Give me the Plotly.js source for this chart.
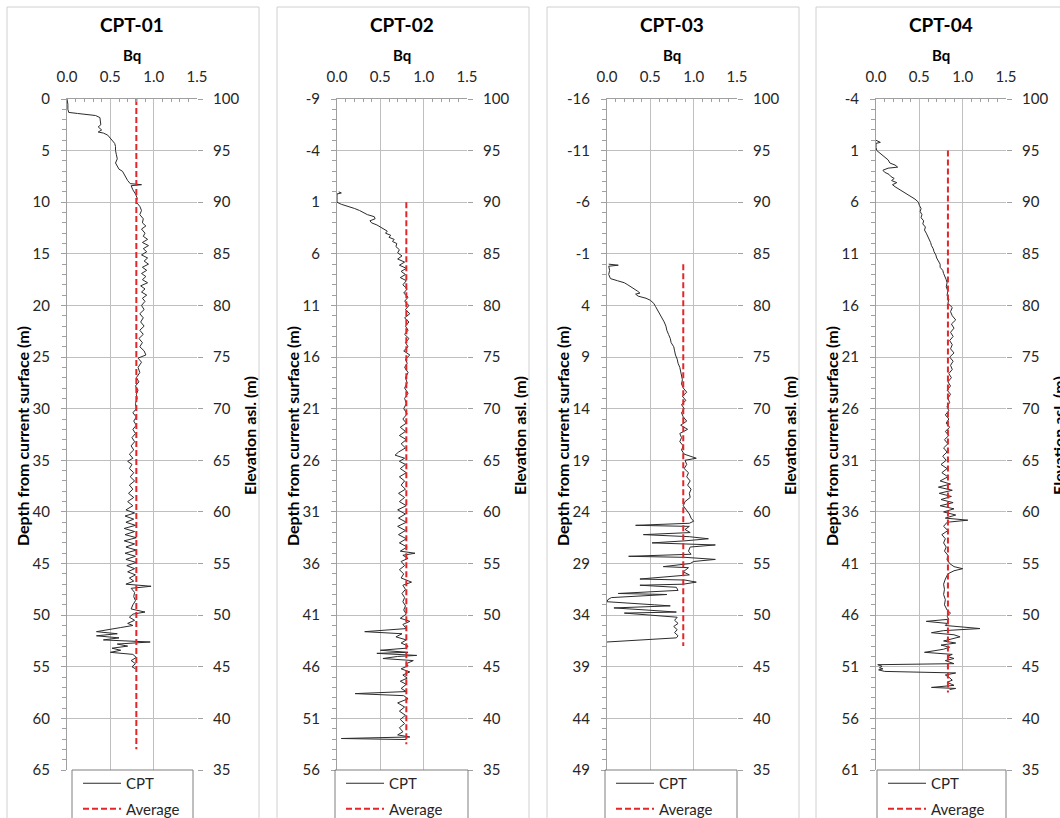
<!DOCTYPE html>
<html><head><meta charset="utf-8">
<script src="https://cdn.plot.ly/plotly-3.0.1.min.js"></script>
<style>html,body{margin:0;padding:0;background:#fff}#chart{width:1060px;height:818px}</style>
</head><body><div id="chart"></div><script>
const panelTitles = ['CPT-01','CPT-02','CPT-03','CPT-04'];
const depthTop = [0,-9,-16,-4];
const elevRange = [35,100];
const bqRange = [0,1.5];
const xTitle = 'Bq';
const yTitleLeft = 'Depth from current surface (m)';
const yTitleRight = 'Elevation asl. (m)';
const legendNames = ['CPT','Average'];

const depth1 = [0,0.5,1.0,1.3,1.4,1.5,1.6,1.8,2.2,2.5,2.7,3.0,3.2,3.3,3.5,3.8,4.0,4.3,4.6,5.0,5.4,5.8,6.2,6.5,6.8,7.0,7.3,7.6,7.9,8.2,8.3,8.4,8.8,9.2,9.6,10.0,10.4,10.8,11.2,11.6,12.0,12.3,12.6,13.0,13.3,13.6,13.9,14.2,14.5,14.8,15.1,15.4,15.7,16.0,16.3,16.6,16.9,17.2,17.5,17.8,18.1,18.4,18.7,19.0,19.3,19.6,20.0,20.4,20.8,21.2,21.6,22.0,22.4,22.8,23.2,23.6,24.0,24.4,24.8,25.1,25.5,26.0,26.5,27.0,27.4,27.8,28.2,28.6,29.0,29.5,30.0,30.4,30.8,31.2,31.6,32.0,32.4,32.8,33.2,33.6,34.0,34.4,34.8,35.1,35.4,35.8,36.2,36.6,37.0,37.4,37.8,38.2,38.6,39.0,39.4,39.8,40.1,40.4,40.7,41.0,41.3,41.6,41.9,42.2,42.5,42.8,43.1,43.4,43.7,44.0,44.3,44.6,44.9,45.2,45.5,45.8,46.1,46.4,46.7,47.0,47.2,47.4,47.8,48.2,48.6,49.0,49.4,49.7,49.9,50.2,50.5,50.8,51.0,51.2,51.4,51.6,51.8,52.0,52.2,52.4,52.6,52.8,53.0,53.2,53.4,53.6,53.8,54.1,54.4,54.7,55.0,55.2];
const bq1 = [0.00,0.01,0.01,0.02,0.12,0.26,0.33,0.38,0.39,0.39,0.36,0.40,0.36,0.42,0.47,0.50,0.52,0.55,0.56,0.56,0.57,0.58,0.56,0.58,0.60,0.64,0.66,0.68,0.70,0.73,0.86,0.74,0.76,0.79,0.81,0.80,0.84,0.86,0.84,0.88,0.87,0.91,0.86,0.90,0.88,0.93,0.87,0.94,0.88,0.92,0.86,0.93,0.89,0.94,0.87,0.92,0.86,0.91,0.87,0.93,0.85,0.90,0.86,0.92,0.87,0.90,0.86,0.89,0.84,0.88,0.85,0.89,0.84,0.88,0.83,0.87,0.84,0.89,0.91,0.82,0.86,0.82,0.84,0.80,0.83,0.79,0.82,0.80,0.81,0.79,0.80,0.76,0.80,0.77,0.80,0.76,0.79,0.75,0.78,0.74,0.77,0.72,0.76,0.70,0.75,0.72,0.77,0.73,0.78,0.72,0.76,0.71,0.77,0.70,0.76,0.68,0.78,0.67,0.77,0.68,0.79,0.66,0.78,0.67,0.80,0.66,0.78,0.68,0.80,0.67,0.79,0.68,0.80,0.69,0.78,0.70,0.79,0.72,0.77,0.68,0.97,0.74,0.78,0.77,0.79,0.76,0.74,0.90,0.76,0.72,0.78,0.70,0.76,0.62,0.48,0.34,0.58,0.34,0.60,0.42,0.96,0.58,0.70,0.52,0.62,0.50,0.76,0.80,0.74,0.79,0.75,0.79];
const avgDepth1 = [0,63];
const avgBq1 = [0.80,0.80];

const depth2 = [0.0,0.1,0.2,0.6,1.0,1.2,1.4,1.6,1.8,2.0,2.2,2.4,2.6,2.8,3.0,3.2,3.4,3.6,3.8,4.0,4.2,4.4,4.6,4.8,5.0,5.3,5.6,5.9,6.2,6.5,6.8,7.1,7.4,7.7,8.0,8.3,8.6,9.0,9.4,9.8,10.2,10.6,11.0,11.4,11.8,12.2,12.6,13.0,13.4,13.8,14.2,14.6,15.0,15.4,15.8,16.2,16.6,17.0,17.5,18.0,18.5,19.0,19.5,20.0,20.5,21.0,21.5,22.0,22.4,22.8,23.2,23.6,24.0,24.4,24.8,25.2,25.5,25.8,26.1,26.4,26.8,27.2,27.6,28.0,28.4,28.8,29.2,29.6,30.0,30.4,30.8,31.2,31.6,32.0,32.4,32.8,33.2,33.6,34.0,34.4,34.8,35.0,35.2,35.5,35.8,36.2,36.6,37.0,37.4,37.8,38.1,38.5,38.9,39.3,39.7,40.1,40.5,40.9,41.3,41.6,41.9,42.3,42.6,42.8,43.1,43.4,43.7,44.0,44.2,44.4,44.6,44.7,44.9,45.0,45.2,45.4,45.7,45.9,46.2,46.5,46.8,47.1,47.4,47.7,48.1,48.4,48.6,48.8,49.1,49.5,49.9,50.3,50.7,51.1,51.5,51.9,52.3,52.6,52.8,52.95,53.05];
const bq2 = [0.02,0.05,0.00,0.00,0.00,0.05,0.14,0.20,0.26,0.31,0.35,0.43,0.44,0.38,0.40,0.46,0.50,0.55,0.58,0.56,0.62,0.60,0.66,0.64,0.69,0.68,0.72,0.70,0.75,0.70,0.78,0.72,0.80,0.74,0.79,0.73,0.80,0.76,0.81,0.77,0.82,0.78,0.83,0.79,0.84,0.78,0.83,0.79,0.82,0.78,0.83,0.79,0.82,0.77,0.84,0.79,0.81,0.78,0.82,0.79,0.81,0.78,0.82,0.78,0.80,0.77,0.81,0.76,0.80,0.73,0.79,0.72,0.80,0.74,0.79,0.71,0.67,0.78,0.72,0.79,0.73,0.80,0.72,0.78,0.74,0.79,0.71,0.78,0.72,0.80,0.70,0.79,0.71,0.80,0.70,0.79,0.71,0.80,0.72,0.81,0.73,0.90,0.76,0.82,0.74,0.78,0.72,0.77,0.74,0.86,0.76,0.79,0.75,0.78,0.76,0.79,0.77,0.80,0.73,0.84,0.76,0.80,0.32,0.75,0.68,0.80,0.74,0.82,0.80,0.50,0.82,0.46,0.92,0.70,0.53,0.88,0.80,0.82,0.74,0.84,0.76,0.81,0.73,0.80,0.74,0.80,0.21,0.77,0.82,0.70,0.78,0.72,0.79,0.73,0.78,0.72,0.76,0.70,0.84,0.05,0.80];
const avgDepth2 = [1,53.5];
const avgBq2 = [0.80,0.80];

const depth3 = [0.0,0.1,0.2,0.6,1.0,1.4,1.6,1.8,2.0,2.2,2.4,2.6,2.8,2.9,3.1,3.3,3.5,3.8,4.1,4.4,4.8,5.2,5.6,6.0,6.4,6.8,7.2,7.6,8.0,8.4,8.8,9.2,9.6,10.0,10.4,10.8,11.2,11.6,12.0,12.4,12.8,13.2,13.6,14.0,14.4,14.8,15.2,15.6,16.0,16.4,16.8,17.2,17.6,18.0,18.4,18.8,19.0,19.4,19.8,20.2,20.6,21.0,21.4,21.8,22.2,22.6,23.0,23.4,23.8,24.2,24.6,24.9,25.1,25.3,25.4,25.7,26.0,26.2,26.4,26.6,26.8,27.0,27.2,27.4,27.8,28.1,28.3,28.4,28.6,28.8,29.0,29.3,29.4,29.8,30.1,30.5,30.6,30.8,31.0,31.1,31.3,31.6,31.9,32.0,32.3,32.5,32.7,32.9,33.0,33.1,33.3,33.5,33.7,33.8,34.0,34.2,34.5,34.8,35.1,35.4,35.7,36.0,36.2,36.35,36.45,36.6];
const bq3 = [0.02,0.13,0.02,0.03,0.02,0.04,0.12,0.20,0.24,0.28,0.31,0.35,0.38,0.33,0.36,0.45,0.50,0.54,0.56,0.58,0.61,0.64,0.66,0.68,0.69,0.71,0.73,0.74,0.77,0.78,0.79,0.81,0.82,0.84,0.85,0.86,0.87,0.86,0.88,0.92,0.87,0.91,0.86,0.89,0.86,0.88,0.92,0.85,0.93,0.84,0.86,0.84,0.88,0.86,0.89,1.03,0.90,0.92,0.89,0.94,0.92,0.96,0.93,0.97,0.95,0.96,0.90,0.88,0.92,0.95,0.97,1.00,0.95,0.33,0.95,0.90,0.96,0.42,0.95,1.17,0.90,0.52,1.25,0.96,0.94,0.97,0.25,0.90,1.25,1.00,0.96,0.65,0.94,0.88,0.95,0.38,0.90,1.03,0.88,0.38,0.80,0.82,0.13,0.69,0.05,0.01,0.00,0.30,0.55,0.73,0.08,0.45,0.80,0.20,0.48,0.81,0.78,0.82,0.77,0.81,0.78,0.82,0.80,0.50,0.27,0.00];
const avgDepth3 = [0,37];
const avgBq3 = [0.88,0.88];

const depth4 = [0.0,0.2,0.3,0.7,1.0,1.3,1.6,1.9,2.2,2.4,2.6,2.7,2.9,3.1,3.3,3.5,3.7,3.9,4.1,4.3,4.5,4.7,4.9,5.1,5.3,5.5,5.7,6.0,6.3,6.6,6.9,7.2,7.5,7.8,8.1,8.4,8.7,9.0,9.3,9.6,9.9,10.2,10.5,10.8,11.1,11.4,11.7,12.0,12.3,12.6,12.9,13.2,13.5,13.8,14.2,14.6,15.0,15.4,15.8,16.2,16.6,17.0,17.4,17.8,18.2,18.6,19.0,19.4,19.8,20.2,20.6,21.0,21.4,21.8,22.2,22.6,23.0,23.4,23.8,24.2,24.6,25.0,25.4,25.8,26.2,26.6,27.0,27.4,27.8,28.2,28.6,29.0,29.4,29.8,30.2,30.6,31.0,31.4,31.8,32.2,32.6,33.0,33.3,33.6,33.9,34.2,34.5,34.8,35.1,35.4,35.7,36.0,36.3,36.6,36.8,37.0,37.4,37.8,38.2,38.6,39.0,39.4,39.8,40.2,40.6,41.0,41.3,41.5,41.7,42.0,42.5,43.0,43.5,44.0,44.5,45.0,45.5,45.8,46.1,46.4,46.6,46.8,47.0,47.3,47.5,47.7,47.9,48.1,48.3,48.5,48.7,48.9,49.1,49.3,49.6,49.8,50.0,50.2,50.4,50.7,50.8,50.95,51.1,51.2,51.3,51.45,51.6,51.8,52.0,52.3,52.5,52.8,53.0,53.1,53.2];
const bq4 = [0.00,0.05,0.00,0.00,0.01,0.05,0.10,0.14,0.16,0.22,0.25,0.14,0.08,0.10,0.15,0.17,0.21,0.18,0.24,0.19,0.22,0.26,0.30,0.34,0.38,0.42,0.45,0.49,0.50,0.52,0.51,0.53,0.52,0.55,0.54,0.57,0.56,0.58,0.60,0.61,0.63,0.64,0.66,0.67,0.69,0.70,0.72,0.74,0.74,0.77,0.78,0.80,0.81,0.82,0.81,0.83,0.82,0.84,0.83,0.88,0.86,0.88,0.92,0.87,0.90,0.86,0.89,0.85,0.88,0.86,0.90,0.85,0.89,0.86,0.88,0.84,0.87,0.83,0.86,0.82,0.86,0.83,0.85,0.82,0.84,0.80,0.84,0.81,0.85,0.80,0.84,0.79,0.83,0.78,0.82,0.77,0.81,0.75,0.82,0.76,0.83,0.74,0.86,0.72,0.88,0.73,0.87,0.75,0.89,0.74,0.90,0.78,0.92,0.80,1.06,0.82,0.78,0.83,0.76,0.80,0.78,0.81,0.79,0.83,0.82,0.85,0.90,1.00,0.90,0.83,0.80,0.78,0.79,0.78,0.80,0.79,0.82,0.86,0.82,0.84,0.58,0.82,0.80,1.20,0.78,0.64,0.90,0.97,0.88,0.78,0.92,0.75,0.85,0.78,0.56,0.88,0.82,0.90,0.80,0.90,0.02,0.07,0.04,0.08,0.03,0.10,0.92,0.80,0.84,0.88,0.82,0.90,0.64,0.92,0.85];
const avgDepth4 = [1,53.5];
const avgBq4 = [0.83,0.83];

const cptDepths = [depth1, depth2, depth3, depth4];
const cptBq = [bq1, bq2, bq3, bq4];
const avgDepths = [avgDepth1, avgDepth2, avgDepth3, avgDepth4];
const avgBqs = [avgBq1, avgBq2, avgBq3, avgBq4];

// ---- presentation ----
const W = 1060, H = 818;
const fx = p => p / W;
const fy = p => 1 - p / H;
const offs = [0, 270, 540, 809];
const plotL = 67, plotR = 197, plotT = 99, plotB = 770;
const legBoxL = [72, 335, 605, 877], legBoxR = [193, 468, 737, 1006];
const FONT = 'Lato, "Open Sans", sans-serif';
const TXT = '#262626';
const GRID = '#bfbfbf';
const AXL = '#a0a0a0';
const span = elevRange[1] - elevRange[0];

const data = [];
const layout = {
  width: W, height: H,
  margin: {l: 0, r: 0, t: 0, b: 0, autoexpand: false},
  paper_bgcolor: '#fff', plot_bgcolor: 'rgba(0,0,0,0)',
  font: {family: FONT, color: TXT, size: 15},
  showlegend: true,
  shapes: [], annotations: []
};

for (let i = 0; i < 4; i++) {
  const s = i === 0 ? '' : String(i + 1);
  const off = offs[i];
  const top = depthTop[i];
  const dTicks = [];
  for (let v = top; v <= top + span; v += 5) dTicks.push(v);
  const legId = 'legend' + s;

  data.push({
    type: 'scatter', mode: 'lines', name: legendNames[0],
    x: cptBq[i], y: cptDepths[i],
    xaxis: 'x' + s, yaxis: 'y' + s,
    line: {color: '#2b2b2b', width: 1},
    legend: legId, legendgroup: 'c' + i, hoverinfo: 'skip'
  });
  data.push({
    type: 'scatter', mode: 'lines', name: legendNames[1],
    x: avgBqs[i], y: avgDepths[i],
    xaxis: 'x' + s, yaxis: 'y' + s,
    line: {color: '#e3262a', width: 2, dash: '6px,3px'},
    legend: legId, legendgroup: 'a' + i, hoverinfo: 'skip'
  });
  // hidden carrier so the elevation (right) axis gets drawn
  data.push({
    type: 'scatter', mode: 'lines', x: bqRange, y: elevRange,
    xaxis: 'x' + s, yaxis: 'y' + (i + 5),
    line: {width: 0, color: 'rgba(0,0,0,0)'}, opacity: 0,
    showlegend: false, hoverinfo: 'skip'
  });

  layout['xaxis' + s] = {
    domain: [fx(off + plotL), fx(off + plotR)], anchor: 'y' + s, side: 'top',
    range: bqRange, tickmode: 'linear', tick0: 0, dtick: 0.5, tickformat: '.1f',
    showgrid: true, gridcolor: GRID, gridwidth: 1,
    showline: true, linecolor: AXL, linewidth: 1, zeroline: false,
    ticks: '', ticklabelstandoff: 10,
    tickfont: {family: FONT, size: 15, color: TXT},
    minor: {tickmode: 'linear', tick0: 0, dtick: 0.1, ticks: 'inside', ticklen: 3, tickcolor: AXL, showgrid: false}
  };
  layout['yaxis' + s] = {
    domain: [fy(plotB), fy(plotT)], anchor: 'x' + s,
    range: [top + span, top], tickmode: 'array', tickvals: dTicks, ticktext: dTicks.map(String),
    showgrid: true, gridcolor: GRID, gridwidth: 1,
    showline: true, linecolor: AXL, linewidth: 1, zeroline: false,
    ticks: 'outside', ticklen: 5, tickcolor: AXL, ticklabelstandoff: 8,
    tickfont: {family: FONT, size: 15, color: TXT},
    minor: {tickmode: 'linear', tick0: top, dtick: 1, ticks: 'outside', ticklen: 4, tickcolor: AXL, showgrid: false}
  };
  layout['yaxis' + (i + 5)] = {
    overlaying: 'y' + s, side: 'right', anchor: 'x' + s,
    range: elevRange, tickmode: 'linear', tick0: elevRange[0], dtick: 5,
    showgrid: false, showline: false, zeroline: false,
    ticks: 'outside', ticklen: 5, tickcolor: AXL, ticklabelstandoff: 7,
    tickfont: {family: FONT, size: 15, color: TXT}
  };
  layout[legId] = {
    x: fx(legBoxL[i] + 6), y: fy(767), xanchor: 'left', yanchor: 'top',
    bgcolor: 'rgba(0,0,0,0)', borderwidth: 0,
    font: {family: FONT, size: 15, color: TXT},
    traceorder: 'grouped', tracegroupgap: 3, itemwidth: 38
  };

  layout.shapes.push({type: 'rect', xref: 'paper', yref: 'paper',
    x0: fx(off + 7), x1: fx(off + 259), y0: -0.05, y1: fy(7),
    line: {color: '#d0d0d0', width: 1}, fillcolor: 'rgba(0,0,0,0)', layer: 'below'});
  layout.shapes.push({type: 'rect', xref: 'paper', yref: 'paper',
    x0: fx(legBoxL[i]), x1: fx(legBoxR[i]), y0: -0.05, y1: fy(plotB),
    line: {color: '#7f7f7f', width: 1}, fillcolor: 'rgba(0,0,0,0)'});

  layout.annotations.push(
    {text: panelTitles[i], xref: 'paper', yref: 'paper', x: fx(off + 132), y: fy(25),
     xanchor: 'center', yanchor: 'middle', showarrow: false,
     font: {family: FONT, size: 19, color: '#000', weight: 700}},
    {text: xTitle, xref: 'paper', yref: 'paper', x: fx(off + 132), y: fy(55),
     xanchor: 'center', yanchor: 'middle', showarrow: false,
     font: {family: FONT, size: 15, color: '#000', weight: 700}},
    {text: yTitleLeft, xref: 'paper', yref: 'paper', x: fx(off + 22), y: fy(436),
     xanchor: 'center', yanchor: 'middle', textangle: -90, showarrow: false,
     font: {family: FONT, size: 16, color: '#000', weight: 700}},
    {text: yTitleRight, xref: 'paper', yref: 'paper', x: fx(off + 249), y: fy(436),
     xanchor: 'center', yanchor: 'middle', textangle: -90, showarrow: false,
     font: {family: FONT, size: 16, color: '#000', weight: 700}}
  );
}

Plotly.newPlot('chart', data, layout, {displayModeBar: false, staticPlot: true});
</script></body></html>
